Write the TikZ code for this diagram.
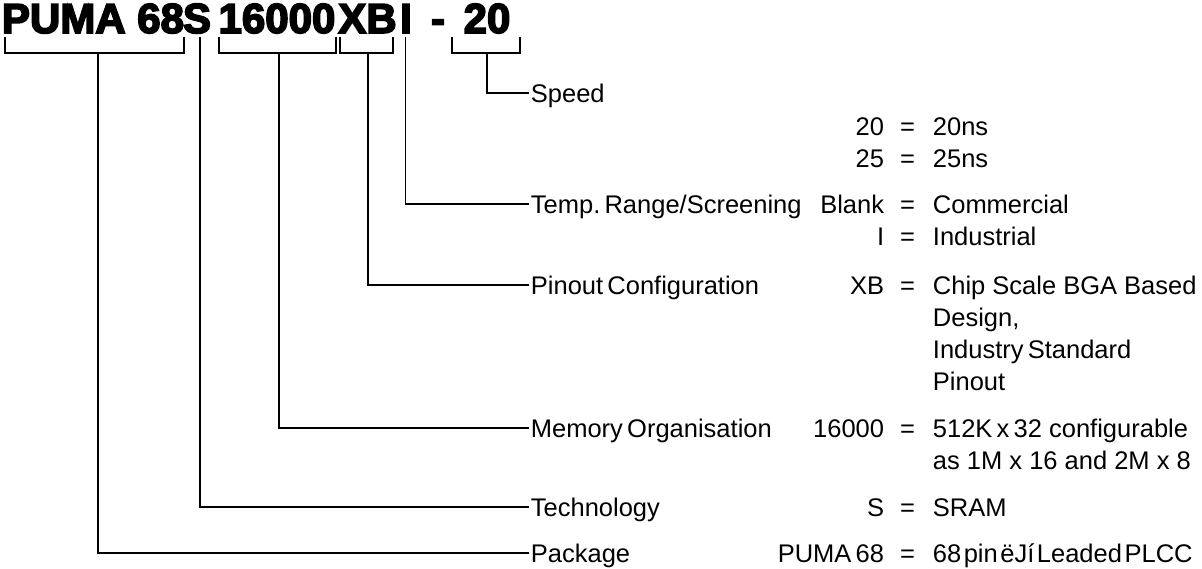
\documentclass[tikz,border=0pt]{standalone}
\usepackage{fontspec}
\setmainfont{Liberation Sans}
\newfontfamily\titfont{Liberation Sans}[BoldFeatures={FakeBold=4}]
\begin{document}
\begin{tikzpicture}[x=1pt, y=-1pt, line width=1.8pt,
  tit/.style={anchor=base, inner sep=0pt, font=\titfont\bfseries\fontsize{42}{42}\selectfont},
  lab/.style={anchor=west, inner xsep=1pt, inner ysep=0pt, text height=18pt, text depth=0pt, font=\fontsize{25.5}{32}\selectfont},
  val/.style={lab, anchor=east, inner xsep=0pt},
  eqs/.style={lab, anchor=center, inner xsep=0pt},
  des/.style={lab, inner xsep=0pt}]
\useasboundingbox (0,0) rectangle (1202,568);
% part number
\node[tit] (tit0) at (93,33){PUMA 68};
\node[tit] (tit1) at (197,33){S};
\node[tit] (tit2) at (277,33){16000};
\node[tit] (tit3) at (367.5,33){XB};
\node[tit] (tit4) at (406,33){I};
\node[tit] (tit5) at (438,33){-};
\node[tit] (tit6) at (487,33){20};
% brackets
\draw[](5,37) |- (184,53) -- (184,37);
\draw[](219,37) |- (336,53) -- (336,37);
\draw[](340,37) |- (393,53) -- (393,37);
\draw[](452,37) |- (520,53) -- (520,37);
\coordinate (stm0) at (97.7,53);
\coordinate (stm1) at (200,37);
\coordinate (stm2) at (279,53);
\coordinate (stm3) at (368,53);
\coordinate (stm4) at (405.5,37);
\coordinate (stm6) at (487,53);
% fields
\node[lab] (lab6) at (529,93){Speed};
\node[lab] (lab4) at (529,204){Temp.\,Range/Screening};
\node[lab] (lab3) at (529,285){Pinout\,Configuration};
\node[lab] (lab2) at (529,428){Memory\,Organisation};
\node[lab] (lab1) at (529,507){Technology};
\node[lab] (lab0) at (529,553){Package};
\draw[](stm0) |- (lab0.west);
\draw[](stm1) |- (lab1.west);
\draw[](stm2) |- (lab2.west);
\draw[](stm3) |- (lab3.west);
\draw[](stm4) |- (lab4.west);
\draw[](stm6) |- (lab6.west);
% options
\node[val] (val0) at (885,126){20};
\node[eqs] (eq0) at (907.5,126){=};
\node[des] (des0) at (932,126){20ns};
\node[val] (val1) at (885,158){25};
\node[eqs] (eq1) at (907.5,158){=};
\node[des] (des1) at (932,158){25ns};
\node[val] (val2) at (885,204){Blank};
\node[eqs] (eq2) at (907.5,204){=};
\node[des] (des2) at (932,204){Commercial};
\node[val] (val3) at (885,236){I};
\node[eqs] (eq3) at (907.5,236){=};
\node[des] (des3) at (932,236){Industrial};
\node[val] (val4) at (885,285){XB};
\node[eqs] (eq4) at (907.5,285){=};
\node[des] (des4) at (932,285){Chip Scale BGA Based};
\node[des] (des5) at (932,317){Design,};
\node[des] (des6) at (932,349){Industry\,Standard};
\node[des] (des7) at (932,381){Pinout};
\node[val] (val5) at (885,428){16000};
\node[eqs] (eq5) at (907.5,428){=};
\node[des] (des8) at (932,428){512K\,x\,32 configurable};
\node[des] (des9) at (932,460){as 1M x 16 and 2M x 8};
\node[val] (val6) at (885,507){S};
\node[eqs] (eq6) at (907.5,507){=};
\node[des] (des10) at (932,507){SRAM};
\node[val] (val7) at (885,553){PUMA\,68};
\node[eqs] (eq7) at (907.5,553){=};
\node[des] (des11) at (932,553){68\hspace{.1em}pin\hspace{.1em}ëJí\hspace{.1em}Leaded\hspace{.1em}PLCC};
\end{tikzpicture}
\end{document}
